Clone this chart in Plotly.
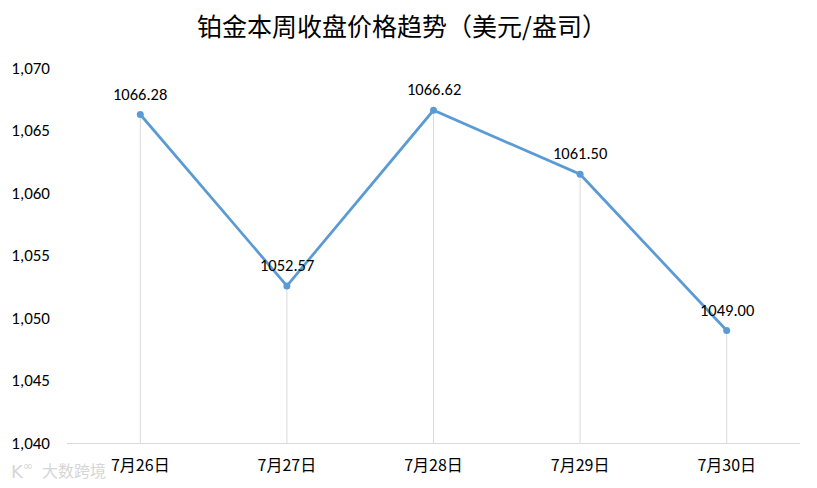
import plotly.graph_objects as go

categories = ["7月26日", "7月27日", "7月28日", "7月29日", "7月30日"]
prices = [1066.28, 1052.57, 1066.62, 1061.50, 1049.00]
y_ticks = [1040, 1045, 1050, 1055, 1060, 1065, 1070]
title = "铂金本周收盘价格趋势（美元/盎司）"
watermark = "大数跨境"

y_min, y_max = 1040, 1070
font_family = "Carlito, Calibri, Lato, 'Noto Sans CJK SC', 'Liberation Sans', sans-serif"
W, H = 817, 488
body = 8  # default page margin offset

drop_x, drop_y = [], []
for c, v in zip(categories, prices):
    drop_x += [c, c, None]
    drop_y += [v, y_min, None]

fig = go.Figure()
fig.add_trace(go.Scatter(x=drop_x, y=drop_y, mode="lines",
                         line=dict(color="#d9d9d9", width=1),
                         hoverinfo="skip", showlegend=False))
fig.add_trace(go.Scatter(x=categories, y=prices, mode="lines+markers",
                         line=dict(color="#5b9bd5", width=2.75),
                         marker=dict(color="#5b9bd5", size=7),
                         showlegend=False))

for c, v in zip(categories, prices):
    fig.add_annotation(x=c, y=v, text=f"{v:.2f}", showarrow=False,
                       yshift=21, font=dict(size=16.5, color="#000000", family=font_family))

# watermark (logo + text)
fig.add_annotation(xref="paper", yref="paper", x=-(67 - 9) / 733, y=-(470 - 443) / 375,
                   xanchor="left", yanchor="middle",
                   text="K<sup>∞</sup>", showarrow=False,
                   font=dict(size=18, color="#d6d6d6", family="'DejaVu Sans'"))
fig.add_annotation(xref="paper", yref="paper", x=-(67 - 40) / 733, y=-(470 - 443) / 375,
                   xanchor="left", yanchor="middle",
                   text=watermark, showarrow=False,
                   font=dict(size=16, color="#d6d6d6", family="'Noto Sans CJK SC'"))

fig.update_layout(
    width=W, height=H,
    margin=dict(l=67 - body, r=W - 800 + body, t=68 - body, b=H - 443 + body, autoexpand=False),
    paper_bgcolor="white", plot_bgcolor="white",
    title=dict(text=title, xref="container", x=(402 - body) / W, xanchor="center",
               y=1 - (27 - body) / H, yanchor="middle",
               font=dict(size=25, color="#000000", family="'Noto Sans CJK SC'")),
    font=dict(family=font_family, color="#000000", size=14),
)
fig.update_xaxes(type="category", showgrid=False, showline=True, linecolor="#d9d9d9", linewidth=1,
                 ticks="", ticklabelstandoff=8, tickfont=dict(size=16, family="'Noto Sans CJK SC'"),
                 range=[-0.5, len(categories) - 0.5], zeroline=False)
fig.update_yaxes(range=[y_min, y_max], tickvals=y_ticks, tickformat=",d", showgrid=False,
                 showline=False, zeroline=False, ticks="", ticklabelstandoff=16,
                 tickfont=dict(size=17))

fig.write_html("out.html")
